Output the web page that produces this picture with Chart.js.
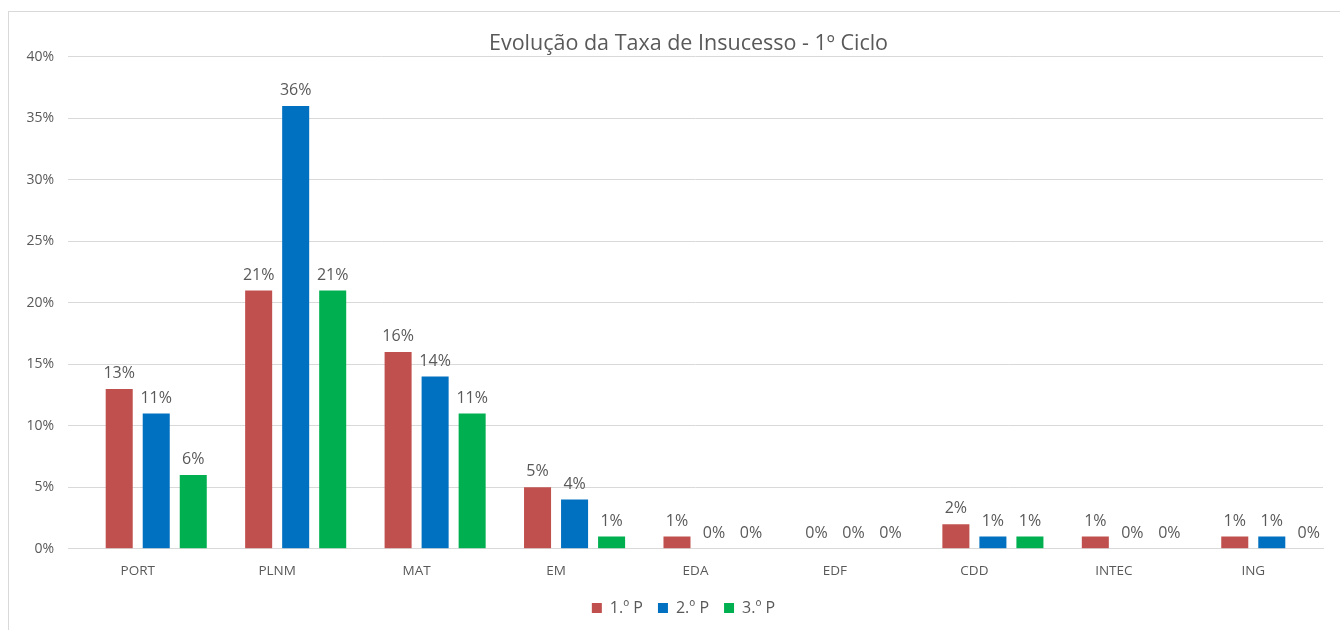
<!DOCTYPE html>
<html>
<head>
<meta charset="utf-8">
<script src="https://cdn.jsdelivr.net/npm/chart.js@4"></script>
<style>
  body { margin: 0; background: #fff; overflow: hidden; }
  #frame { position: absolute; left: 8px; top: 11px; width: 1400px; height: 700px; border: 1px solid #d9d9d9; }
  #myChart { position: absolute; left: 0; top: 0; }
</style>
</head>
<body>
<div id="frame"></div>
<canvas id="myChart" width="1376" height="630"></canvas>
<script>
const categories = ["PORT", "PLNM", "MAT", "EM", "EDA", "EDF", "CDD", "INTEC", "ING"];
const seriesNames = ["1.º P", "2.º P", "3.º P"];
const period1 = [13, 21, 16, 5, 1, 0, 2, 1, 1];
const period2 = [11, 36, 14, 4, 0, 0, 1, 0, 1];
const period3 = [6, 21, 11, 1, 0, 0, 1, 0, 0];
// the excel sheet had an empty first series, which shifts the bars right of the labels
const emptySeries = [null, null, null, null, null, null, null, null, null];
const yMax = 40;
const yStep = 5;

const barColors = ["#C0504D", "#0070C0", "#00B050"];
const textColor = "#595959";
const fontFamily = "'Open Sans', sans-serif";

// move a layout box when drawing, without changing the layout
function shiftDraw(box, dx, dy) {
  const draw = box.draw;
  box.draw = function () {
    this.ctx.save();
    this.ctx.translate(dx, dy);
    draw.apply(this, arguments);
    this.ctx.restore();
  };
}

// draws the value above each bar, like excel data labels
const valueLabels = {
  id: "valueLabels",
  afterInit(chart) {
    // legend block is a bit too tall by default, and sits a little high
    const legend = chart.legend;
    const fit = legend.fit;
    legend.fit = function () {
      fit.call(this);
      this.height -= 8;
    };
    shiftDraw(legend, 22, -8);
    shiftDraw(chart.titleBlock, 27, 0);
  },
  afterDatasetsDraw(chart) {
    const ctx = chart.ctx;
    ctx.save();
    ctx.font = "16px " + fontFamily;
    ctx.fillStyle = textColor;
    ctx.textAlign = "center";
    ctx.textBaseline = "alphabetic";
    chart.data.datasets.forEach((ds, i) => {
      if (ds.hiddenSlot) return;
      const meta = chart.getDatasetMeta(i);
      meta.data.forEach((bar, j) => {
        ctx.fillText(ds.data[j] + "%", bar.x, bar.y - 11);
      });
    });
    ctx.restore();
  }
};

new Chart("myChart", {
  type: "bar",
  data: {
    labels: categories,
    datasets: [
      { label: "", data: emptySeries, hiddenSlot: true, backgroundColor: "rgba(0,0,0,0)" },
      { label: seriesNames[0], data: period1, backgroundColor: barColors[0] },
      { label: seriesNames[1], data: period2, backgroundColor: barColors[1] },
      { label: seriesNames[2], data: period3, backgroundColor: barColors[2] }
    ]
  },
  options: {
    responsive: false,
    animation: false,
    categoryPercentage: 1.062,
    barPercentage: 0.73,
    layout: { padding: { left: 0, right: 53, top: 11, bottom: 4 } },
    plugins: {
      title: {
        display: true,
        text: "Evolução da Taxa de Insucesso - 1º Ciclo",
        color: textColor,
        font: { family: fontFamily, size: 21.5, weight: "normal" },
        padding: { top: 20, bottom: 0 }
      },
      legend: {
        position: "bottom",
        labels: {
          color: textColor,
          font: { family: fontFamily, size: 16 },
          boxWidth: 10,
          boxHeight: 10,
          padding: 15,
          filter: item => item.text !== ""
        }
      },
      tooltip: { enabled: false }
    },
    scales: {
      x: {
        grid: { display: false, drawTicks: false },
        border: { color: "#d9d9d9" },
        ticks: { color: textColor, font: { family: fontFamily, size: 13.5 }, padding: 14 }
      },
      y: {
        min: 0,
        max: yMax,
        grid: { color: "#d9d9d9", drawTicks: false },
        border: { display: false },
        ticks: {
          stepSize: yStep,
          color: textColor,
          font: { family: fontFamily, size: 14 },
          padding: 14,
          callback: v => v + "%"
        },
        afterFit: scale => { scale.width = 68; }
      }
    }
  },
  plugins: [valueLabels]
});
</script>
</body>
</html>
